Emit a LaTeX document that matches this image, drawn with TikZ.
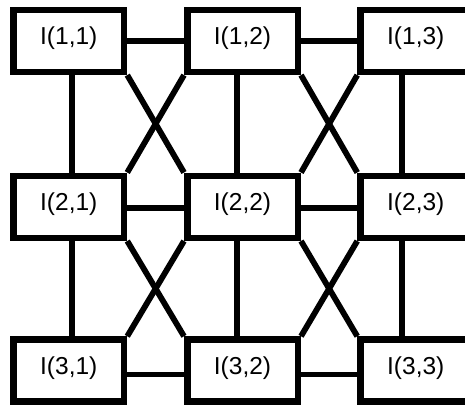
\documentclass[tikz,border=0pt]{standalone}
\usepackage{fontspec}
\setmainfont{Liberation Sans}
\begin{document}
\begin{tikzpicture}[x=1bp,y=-1bp,
  cell/.style={draw,line width=6.5bp,minimum width=110.5bp,minimum height=62bp,inner sep=0pt,
    font=\fontsize{24.5bp}{29bp}\selectfont,text height=12bp,text depth=5bp},
  link/.style={line width=5.8bp}]
\useasboundingbox (0,0) rectangle (465,405);
\clip (0,0) rectangle (465,405);
% boxes
\node[cell] (a11) at (68.75,40.85) {I(1,1)};
\node[cell] (a12) at (242.5,40.85) {I(1,2)};
\node[cell] (a13) at (415.75,40.85) {I(1,3)};
\node[cell] (a21) at (68.75,206.75) {I(2,1)};
\node[cell] (a22) at (242.5,206.75) {I(2,2)};
\node[cell] (a23) at (415.75,206.75) {I(2,3)};
\node[cell] (a31) at (68.75,370.5) {I(3,1)};
\node[cell] (a32) at (242.5,370.5) {I(3,2)};
\node[cell] (a33) at (415.75,370.5) {I(3,3)};
% horizontal links
\draw[link] (a11.east |- 0,41.2) -- (a12.west |- 0,41.2);
\draw[link] (a12.east |- 0,41.2) -- (a13.west |- 0,41.2);
\draw[link] (a21.east |- 0,207.8) -- (a22.west |- 0,207.8);
\draw[link] (a22.east |- 0,207.8) -- (a23.west |- 0,207.8);
\draw[link] (a31.east |- 0,374.5) -- (a32.west |- 0,374.5);
\draw[link] (a32.east |- 0,374.5) -- (a33.west |- 0,374.5);
% vertical links
\draw[link] (a11.south -| 71.7,0) -- (a21.north -| 71.7,0);
\draw[link] (a21.south -| 71.7,0) -- (a31.north -| 71.7,0);
\draw[link] (a12.south -| 237,0) -- (a22.north -| 237,0);
\draw[link] (a22.south -| 237,0) -- (a32.north -| 237,0);
\draw[link] (a13.south -| 402,0) -- (a23.north -| 402,0);
\draw[link] (a23.south -| 402,0) -- (a33.north -| 402,0);
% diagonal links
\draw[link] (a11.south east) -- (a22.north west);
\draw[link] (a12.south west) -- (a21.north east);
\draw[link] (a12.south east) -- (a23.north west);
\draw[link] (a13.south west) -- (a22.north east);
\draw[link] (a21.south east) -- (a32.north west);
\draw[link] (a22.south west) -- (a31.north east);
\draw[link] (a22.south east) -- (a33.north west);
\draw[link] (a23.south west) -- (a32.north east);
\end{tikzpicture}
\end{document}
